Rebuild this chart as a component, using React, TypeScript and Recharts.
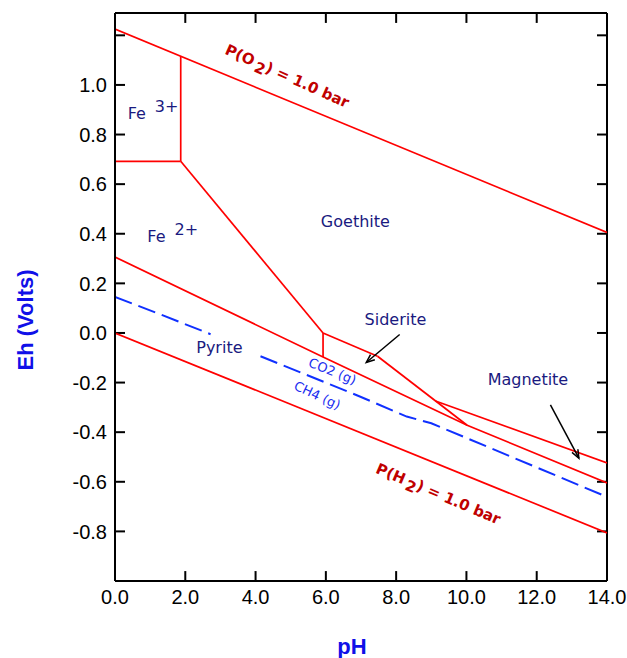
import { LineChart, Line, XAxis, YAxis, ReferenceLine, ReferenceDot } from 'recharts';

// axis ticks
const phTicks = [0, 2, 4, 6, 8, 10, 12, 14];
const ehTicks = [-1.0, -0.8, -0.6, -0.4, -0.2, 0.0, 0.2, 0.4, 0.6, 0.8, 1.0, 1.2];
const PH_MAX = 14;
const EH_MIN = -1;
const EH_MAX = 1.29;

// stability boundaries (pH, Eh in volts)
const o2Line = [{ ph: 0, eh: 1.225 }, { ph: 14, eh: 0.405 }];
const h2Line = [{ ph: 0, eh: 0.0 }, { ph: 14, eh: -0.806 }];
const fe3Fe2 = [{ ph: 0, eh: 0.692 }, { ph: 1.87, eh: 0.692 }];
const fe3Goethite = [{ ph: 1.87, eh: 0.692 }, { ph: 1.87, eh: 1.116 }];
const fe2Goethite = [{ ph: 1.87, eh: 0.692 }, { ph: 5.92, eh: 0.0 }];
const fe2Siderite = [{ ph: 5.92, eh: 0.0 }, { ph: 5.92, eh: -0.097 }];
const pyriteTop = [
  { ph: 0, eh: 0.306 },
  { ph: 5.92, eh: -0.097 },
  { ph: 10.02, eh: -0.372 },
  { ph: 14, eh: -0.605 },
];
const sideriteGoethite = [{ ph: 5.92, eh: 0.0 }, { ph: 7.47, eh: -0.094 }];
const sideriteMagnetite = [{ ph: 7.47, eh: -0.094 }, { ph: 10.02, eh: -0.372 }];
const magnetiteGoethite = [{ ph: 9.12, eh: -0.274 }, { ph: 14, eh: -0.524 }];

// CO2(g)/CH4(g) boundary, broken under the Pyrite label
const carbonLeft = [{ ph: 0, eh: 0.145 }, { ph: 1.2, eh: 0.08 }, { ph: 2.72, eh: -0.005 }];
const carbonRight = [
  { ph: 4.14, eh: -0.094 },
  { ph: 7.0, eh: -0.258 },
  { ph: 8.3, eh: -0.337 },
  { ph: 9.0, eh: -0.364 },
  { ph: 14, eh: -0.661 },
];

const redLines = [o2Line, h2Line, fe3Fe2, fe3Goethite, fe2Goethite, fe2Siderite, pyriteTop, sideriteGoethite, sideriteMagnetite, magnetiteGoethite];
const carbonLines = [carbonLeft, carbonRight];

const regionLabels = [
  { text: 'Goethite', ph: 6.84, eh: 0.45 },
  { text: 'Siderite', ph: 7.98, eh: 0.055 },
  { text: 'Pyrite', ph: 2.97, eh: -0.057 },
  { text: 'Magnetite', ph: 11.75, eh: -0.187 },
];
const ionLabels = [
  { ion: 'Fe', charge: '3+', ph: 0.36, eh: 0.862 },
  { ion: 'Fe', charge: '2+', ph: 0.92, eh: 0.367 },
];
const gasLabels = [
  { text: 'CO2 (g)', ph: 6.19, eh: -0.154, angle: 22 },
  { text: 'CH4 (g)', ph: 5.76, eh: -0.251, angle: 25 },
];
const pressureLabels = [
  { gas: 'O', ph: 4.9, eh: 1.035, angle: 24 },
  { gas: 'H', ph: 9.2, eh: -0.649, angle: 23 },
];
const arrows = [
  [{ x: 8.1, y: -0.006 }, { x: 7.15, y: -0.119 }],
  [{ x: 12.39, y: -0.29 }, { x: 13.2, y: -0.505 }],
];

// inward tick marks, about 10px long
const X_TICK = 0.285;
const Y_TICK = 0.04;
const innerYTicks = ehTicks.filter((v) => v > EH_MIN + 0.01);
const innerXTicks = phTicks.filter((v) => v > 0 && v < PH_MAX);
const tickSegments = [
  ...innerYTicks.map((v) => [{ x: 0, y: v }, { x: X_TICK, y: v }]),
  ...innerYTicks.map((v) => [{ x: PH_MAX - X_TICK, y: v }, { x: PH_MAX, y: v }]),
  ...innerXTicks.map((v) => [{ x: v, y: EH_MIN }, { x: v, y: EH_MIN + Y_TICK }]),
  ...innerXTicks.map((v) => [{ x: v, y: EH_MAX - Y_TICK }, { x: v, y: EH_MAX }]),
];

const NAVY = '#1a1a80';
const RED = '#ff0000';
const tickFont = { fontFamily: '"Liberation Sans", Arial, sans-serif', fontSize: 20, fill: '#000' };

const LeftTick = ({ x, y, payload }: any) => {
  const v = payload.value;
  if (v < -0.99 || v > 1.1) return null;
  return <text x={x} y={y} dy="0.36em" textAnchor="end" {...tickFont}>{v.toFixed(1)}</text>;
};

const BottomTick = ({ x, y, payload }: any) => (
  <text x={x} y={y} dy="0.71em" textAnchor="middle" {...tickFont}>{payload.value.toFixed(1)}</text>
);

const ArrowShape = ({ x1, y1, x2, y2 }: any) => {
  const a = Math.atan2(y2 - y1, x2 - x1);
  const h = 9;
  const s = 0.38;
  const p1 = `${x2 - h * Math.cos(a - s)},${y2 - h * Math.sin(a - s)}`;
  const p2 = `${x2 - h * Math.cos(a + s)},${y2 - h * Math.sin(a + s)}`;
  return (
    <g>
      <line x1={x1} y1={y1} x2={x2} y2={y2} stroke="#000" strokeWidth={1.5} />
      <polyline points={`${p1} ${x2},${y2} ${p2}`} fill="none" stroke="#000" strokeWidth={1.5} />
    </g>
  );
};

const labelFont = { fontFamily: '"DejaVu Sans", Verdana, sans-serif', fontSize: 16, fill: NAVY };
const titleFont = { fontFamily: '"Liberation Sans", Arial, sans-serif', fontSize: 22, fontWeight: 'bold' as const, fill: '#1010e8' };

export default function App() {
  return (
    <div style={{ position: 'absolute', left: 0, top: 0 }}>
      <LineChart width={627} height={658} margin={{ top: 13, right: 20, bottom: 0, left: 0 }}>
        <XAxis
          type="number"
          dataKey="ph"
          domain={[0, PH_MAX]}
          ticks={phTicks}
          interval={0}
          allowDataOverflow
          height={77}
          tickSize={0}
          tickMargin={9}
          tick={<BottomTick />}
          axisLine={{ stroke: '#000', strokeWidth: 2 }}
          label={(p: any) => (
            <text x={p.viewBox.x + p.viewBox.width / 2 - 9} y={p.viewBox.y + 73} textAnchor="middle" {...titleFont}>pH</text>
          )}
        />
        <YAxis
          type="number"
          dataKey="eh"
          domain={[EH_MIN, EH_MAX]}
          ticks={ehTicks}
          interval={0}
          allowDataOverflow
          width={115}
          tickSize={0}
          tickMargin={8}
          tick={<LeftTick />}
          axisLine={{ stroke: '#000', strokeWidth: 2 }}
          label={(p: any) => {
            const cx = p.viewBox.x + 33;
            const cy = p.viewBox.y + 307;
            return (
              <text x={cx} y={cy} transform={`rotate(-90, ${cx}, ${cy})`} textAnchor="middle" {...titleFont}>Eh (Volts)</text>
            );
          }}
        />

        {/* frame: top and right edges, plus inward ticks */}
        <ReferenceLine y={EH_MAX} stroke="#000" strokeWidth={2} ifOverflow="visible" />
        <ReferenceLine x={PH_MAX} stroke="#000" strokeWidth={2} ifOverflow="visible" />
        {tickSegments.map((seg, i) => (
          <ReferenceLine key={`t-${i}`} segment={seg} stroke="#000" strokeWidth={2} ifOverflow="visible" />
        ))}

        {redLines.map((d, i) => (
          <Line
            key={`red-${i}`}
            data={d}
            dataKey="eh"
            type="linear"
            stroke={RED}
            strokeWidth={1.7}
            dot={false}
            activeDot={false}
            isAnimationActive={false}
          />
        ))}
        {carbonLines.map((d, i) => (
          <Line
            key={`c-${i}`}
            data={d}
            dataKey="eh"
            type="linear"
            stroke="#1030ff"
            strokeWidth={2}
            strokeDasharray="18 7"
            dot={false}
            activeDot={false}
            isAnimationActive={false}
          />
        ))}

        {arrows.map((seg, i) => (
          <ReferenceLine key={`ar-${i}`} segment={seg} shape={<ArrowShape />} ifOverflow="visible" />
        ))}

        {regionLabels.map((l) => (
          <ReferenceDot
            key={l.text}
            x={l.ph}
            y={l.eh}
            r={0}
            ifOverflow="visible"
            shape={(p: any) => (
              <text x={p.cx} y={p.cy} dy="0.36em" textAnchor="middle" {...labelFont}>{l.text}</text>
            )}
          />
        ))}
        {ionLabels.map((l) => (
          <ReferenceDot
            key={l.charge}
            x={l.ph}
            y={l.eh}
            r={0}
            ifOverflow="visible"
            shape={(p: any) => (
              <text x={p.cx} y={p.cy} {...labelFont}>
                {l.ion}
                <tspan dx={9} dy={-7}>{l.charge}</tspan>
              </text>
            )}
          />
        ))}
        {gasLabels.map((l) => (
          <ReferenceDot
            key={l.text}
            x={l.ph}
            y={l.eh}
            r={0}
            ifOverflow="visible"
            shape={(p: any) => (
              <text
                x={p.cx}
                y={p.cy}
                dy="0.36em"
                textAnchor="middle"
                transform={`rotate(${l.angle}, ${p.cx}, ${p.cy})`}
                fontFamily='"DejaVu Sans", Verdana, sans-serif'
                fontSize={13}
                fill="#1a2cf0"
              >
                {l.text}
              </text>
            )}
          />
        ))}
        {pressureLabels.map((l) => (
          <ReferenceDot
            key={l.gas}
            x={l.ph}
            y={l.eh}
            r={0}
            ifOverflow="visible"
            shape={(p: any) => (
              <text
                x={p.cx}
                y={p.cy + 5}
                textAnchor="middle"
                transform={`rotate(${l.angle}, ${p.cx}, ${p.cy})`}
                fontFamily='"DejaVu Sans", Verdana, sans-serif'
                fontWeight="bold"
                fontSize={15}
                fill="#c00000"
              >
                {`P(${l.gas}`}
                <tspan dx={3} dy={4}>2</tspan>
                <tspan dy={-4}>) = 1.0 bar</tspan>
              </text>
            )}
          />
        ))}
      </LineChart>
    </div>
  );
}
